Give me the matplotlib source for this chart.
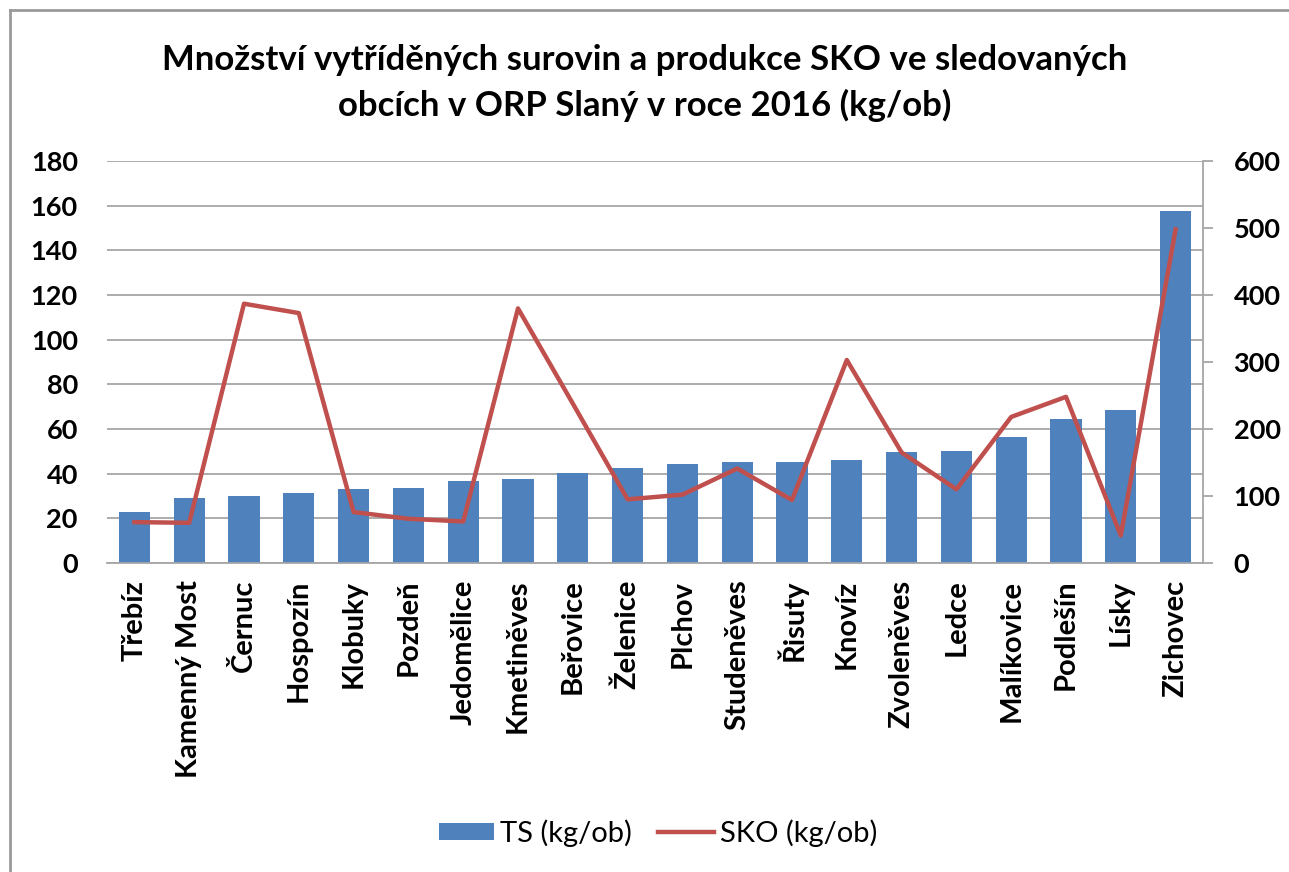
import matplotlib
matplotlib.use("Agg")
import matplotlib.pyplot as plt
from matplotlib.lines import Line2D
import numpy as np

obce = ["Třebíz", "Kamenný Most", "Černuc", "Hospozín", "Klobuky", "Pozdeň",
        "Jedomělice", "Kmetiněves", "Beřovice", "Želenice", "Plchov", "Studeněves",
        "Řisuty", "Knovíz", "Zvoleněves", "Ledce", "Malíkovice", "Podlešín",
        "Lísky", "Zichovec"]
ts = [22.7, 28.9, 29.9, 31.2, 33.0, 33.6, 36.6, 37.4, 40.1, 42.6,
      44.3, 45.3, 45.3, 46.0, 49.6, 50.2, 56.5, 64.3, 68.5, 157.4]
sko = [61, 60, 387, 373, 76, 66, 62, 380, 238, 95,
       102, 141, 94, 303, 165, 110, 218, 248, 41, 498]
left_ticks = [0, 20, 40, 60, 80, 100, 120, 140, 160, 180]
right_ticks = [0, 100, 200, 300, 400, 500, 600]

plt.rcParams['font.family'] = ['Lato', 'DejaVu Sans']

W, H = 1289, 872
fig = plt.figure(figsize=(W/100, H/100), dpi=100)
# outer chart border (only top and left visible in the reference)
fig.lines.append(Line2D([10/W, 1], [1 - 10/H, 1 - 10/H], transform=fig.transFigure,
                        color='#9a9a9a', linewidth=2))
fig.lines.append(Line2D([10/W, 10/W], [0, 1 - 10/H], transform=fig.transFigure,
                        color='#9a9a9a', linewidth=2))

ax = fig.add_axes([107/W, 1 - 563/H, (1203-107)/W, (563-161)/H])
x = np.arange(len(obce))
ax.bar(x, ts, width=0.57, color='#4f81bd', label='TS (kg/ob)', zorder=2)
ax.set_xlim(-0.5, len(obce) - 0.5)
ax.set_ylim(0, 180)
ax.set_yticks(left_ticks)
ax.yaxis.grid(True, color='#a6a6a6', linewidth=1.3, zorder=0)
ax.set_axisbelow(True)
for s in ['top', 'right', 'left']:
    ax.spines[s].set_visible(False)
ax.spines['bottom'].set_color('#a6a6a6')
ax.spines['bottom'].set_linewidth(1.3)
ax.tick_params(axis='y', length=0, labelsize=19.5, pad=21)
ax.tick_params(axis='x', length=0, labelsize=21, pad=12)
ax.set_xticks(x)
ax.set_xticklabels(obce, rotation=90, fontweight='bold')
for lbl in ax.get_yticklabels():
    lbl.set_fontweight('bold')

ax2 = ax.twinx()
ax2.plot(x, sko, color='#c0504d', linewidth=3.2, label='SKO (kg/ob)', zorder=3)
ax2.set_ylim(0, 600)
ax2.set_yticks(right_ticks)
for s in ['top', 'left', 'bottom']:
    ax2.spines[s].set_visible(False)
ax2.spines['right'].set_color('#a6a6a6')
ax2.spines['right'].set_linewidth(1.3)
ax2.tick_params(axis='y', length=7, width=1.3, color='#a6a6a6', labelsize=19.5, pad=15)
for lbl in ax2.get_yticklabels():
    lbl.set_fontweight('bold')

fig.text(0.5, 1 - 60/H, "Množství vytříděných surovin a produkce SKO ve sledovaných",
         ha='center', va='center', fontsize=25, fontweight='bold')
fig.text(0.5, 1 - 105/H, "obcích v ORP Slaný v roce 2016 (kg/ob)",
         ha='center', va='center', fontsize=25, fontweight='bold')

h1, l1 = ax.get_legend_handles_labels()
h2, l2 = ax2.get_legend_handles_labels()
fig.legend(h1 + h2, l1 + l2, loc='center', bbox_to_anchor=(658/W, 1 - 833/H),
           ncol=2, frameon=False, fontsize=21, handlelength=1.9, handleheight=0.55,
           columnspacing=0.9, handletextpad=0.2)

fig.savefig("out.png", dpi=100)
